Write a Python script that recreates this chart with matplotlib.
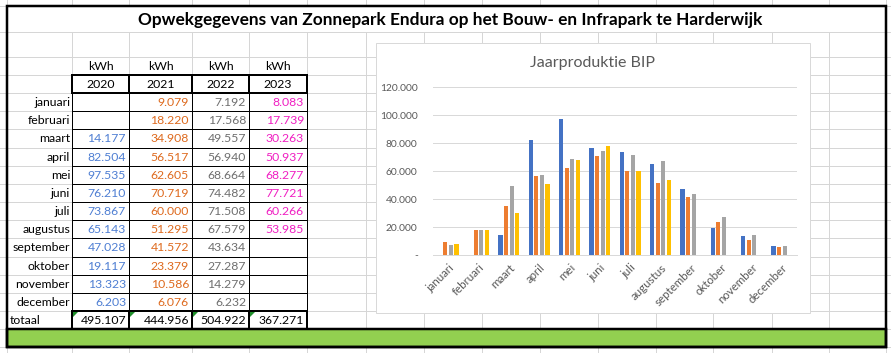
import numpy as np
import matplotlib
matplotlib.use("Agg")
import matplotlib.pyplot as plt
from matplotlib.patches import Rectangle, Polygon

plt.rcParams['font.family'] = ['Lato', 'DejaVu Sans']

# ---- data -------------------------------------------------------------
months = ['januari', 'februari', 'maart', 'april', 'mei', 'juni', 'juli',
          'augustus', 'september', 'oktober', 'november', 'december']
years = ['2020', '2021', '2022', '2023']
kwh_2020 = [np.nan, np.nan, 14177, 82504, 97535, 76210, 73867, 65143, 47028, 19117, 13323, 6203]
kwh_2021 = [9079, 18220, 34908, 56517, 62605, 70719, 60000, 51295, 41572, 23379, 10586, 6076]
kwh_2022 = [7192, 17568, 49557, 56940, 68664, 74482, 71508, 67579, 43634, 27287, 14279, 6232]
kwh_2023 = [8083, 17739, 30263, 50937, 68277, 77721, 60266, 53985, np.nan, np.nan, np.nan, np.nan]
series = [kwh_2020, kwh_2021, kwh_2022, kwh_2023]
totals = [495107, 444956, 504922, 367271]

bar_colors = ['#4472C4', '#ED7D31', '#A5A5A5', '#FFC000']
text_colors = ['#4F7FD3', '#DE6A1E', '#6F6F6F', '#F01FC2']


def nl(v):
    # Dutch thousands separator
    return f"{v:,.0f}".replace(",", ".")


W, H = 891, 353
fig = plt.figure(figsize=(W / 100, H / 100), dpi=100)
ax = fig.add_axes([0, 0, 1, 1])
ax.set_xlim(0, W)
ax.set_ylim(H, 0)
ax.axis('off')

px = 0.72  # one pixel in points
grid_c = '#D6D6D6'

cols = [7, 72, 129, 192, 249, 307, 366, 424, 482, 540, 598, 656, 713, 772, 829, 886]
rows = [6, 32, 57, 75] + list(np.linspace(93, 311, 13)) + [329, 347]

# sheet gridlines
for y in rows:
    ax.plot([0, W], [y, y], color=grid_c, lw=px, zorder=1)
for x in cols:
    ax.plot([x, x], [0, 6], color=grid_c, lw=px, zorder=1)
    ax.plot([x, x], [32, H], color=grid_c, lw=px, zorder=1)
ax.plot([891, 891], [0, H], color=grid_c, lw=px, zorder=1)

# chart box
ax.add_patch(Rectangle((376, 43), 810 - 376, 313 - 43, facecolor='white',
                       edgecolor='#D9D9D9', lw=px, zorder=2))

# table borders
tl, tr = cols[1], cols[5]
month_rows = rows[4:17]
for y in month_rows:
    ax.plot([tl, tr], [y, y], color='black', lw=px, zorder=3)
for x in cols[1:6]:
    ax.plot([x, x], [93, 311], color='black', lw=px, zorder=3)
for (y0, y1) in [(75, 93), (311, 329)]:
    ax.add_patch(Rectangle((tl, y0), tr - tl, y1 - y0, fill=False,
                           edgecolor='black', lw=2 * px, zorder=4))
    for x in cols[2:5]:
        ax.plot([x, x], [y0, y1], color='black', lw=2 * px, zorder=4)

# green band and outer frame
ax.add_patch(Rectangle((7, 329), 886 - 7, 347 - 329, facecolor='#92D050',
                       edgecolor='black', lw=2.5 * px, zorder=4))
ax.add_patch(Rectangle((7, 6), 886 - 7, 347 - 6, fill=False,
                       edgecolor='black', lw=2.5 * px, zorder=5))

# title
ax.text(450, 19.5, 'Opwekgegevens van Zonnepark Endura op het Bouw- en Infrapark te Harderwijk',
        ha='center', va='center', fontsize=12.4, fontweight='bold', color='black', zorder=6)

fs = 8.8
for i, yr in enumerate(years):
    cx = (cols[i + 1] + cols[i + 2]) / 2
    ax.text(cx, 66.5, 'kWh', ha='center', va='center', fontsize=fs, zorder=6)
    ax.text(cx, 84.5, yr, ha='center', va='center', fontsize=fs, zorder=6)
    for j, v in enumerate(series[i]):
        yc = (month_rows[j] + month_rows[j + 1]) / 2 + 0.5
        if not np.isnan(v):
            ax.text(cols[i + 2] - 3, yc, nl(v), ha='right', va='center',
                    fontsize=fs, color=text_colors[i], zorder=6)
    ax.text(cols[i + 2] - 3, 320.5, nl(totals[i]), ha='right', va='center',
            fontsize=fs, color='black', zorder=6)
    x0 = cols[i + 1] + 1
    ax.add_patch(Polygon([[x0, 312], [x0 + 5, 312], [x0, 317]], closed=True,
                         facecolor='#1F8F2A', edgecolor='none', zorder=6))

for j, m in enumerate(months):
    yc = (month_rows[j] + month_rows[j + 1]) / 2 + 0.5
    ax.text(70, yc, m, ha='right', va='center', fontsize=fs, zorder=6)
ax.text(10, 320.5, 'totaal', ha='left', va='center', fontsize=fs, zorder=6)

# ---- chart -------------------------------------------------------------
ax.text(592, 63, 'Jaarproduktie BIP', ha='center', va='center', fontsize=11.5,
        color='#595959', zorder=6)

left, right, top, bottom = 433, 797, 87.3, 255
cax = fig.add_axes([left / W, 1 - bottom / H, (right - left) / W, (bottom - top) / H])
cax.set_facecolor('none')
x = np.arange(len(months))
pitch, bw = 0.185, 0.14
for k, vals in enumerate(series):
    cax.bar(x + (k - 1.5) * pitch, vals, width=bw, color=bar_colors[k], zorder=3)
cax.set_xlim(-0.5, len(months) - 0.5)
cax.set_ylim(0, 120000)
yt = np.arange(0, 120001, 20000)
cax.set_yticks(yt)
cax.set_yticklabels(['-'] + [nl(v) for v in yt[1:]])
cax.set_xticks(x)
cax.set_xticklabels(months, rotation=45, ha='right', va='top', rotation_mode='anchor')
cax.grid(axis='y', color='#D9D9D9', lw=px, zorder=0)
for s in ['top', 'right', 'left']:
    cax.spines[s].set_visible(False)
cax.spines['bottom'].set_color('#D9D9D9')
cax.spines['bottom'].set_linewidth(px)
cax.tick_params(axis='both', length=0, colors='#595959')
cax.tick_params(axis='y', labelsize=7.4, pad=11)
cax.tick_params(axis='x', labelsize=8.3, pad=5)

fig.savefig('out.png', dpi=100)
